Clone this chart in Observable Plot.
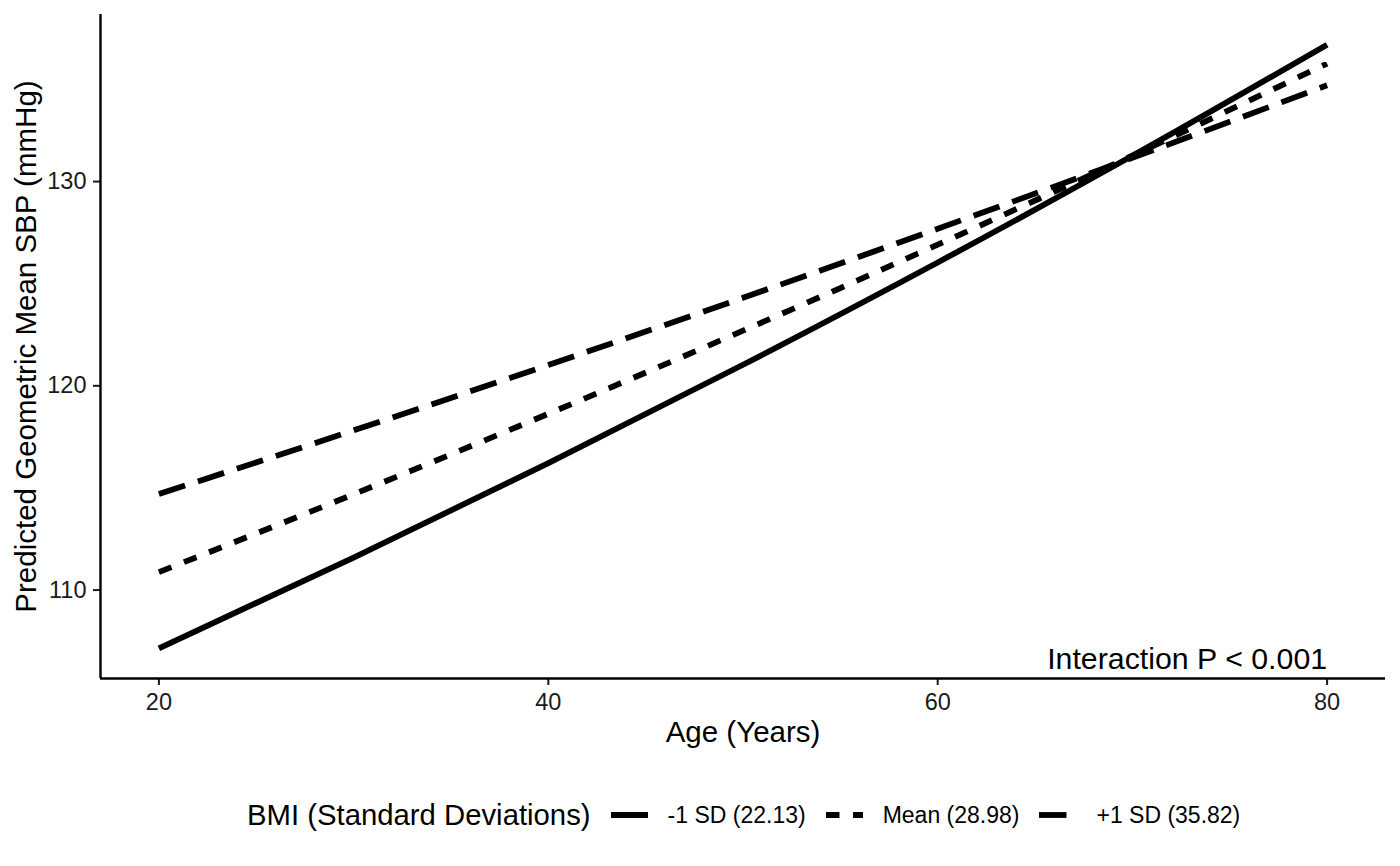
<!DOCTYPE html>
<html>
<head>
<meta charset="utf-8">
<script src="https://cdn.jsdelivr.net/npm/d3@7"></script>
<script src="https://cdn.jsdelivr.net/npm/@observablehq/plot@0.6"></script>
<style>
  html, body { margin: 0; padding: 0; background: #fff; }
  body { position: relative; width: 1400px; height: 866px; font-family: "Liberation Sans", Arial, sans-serif; color: #000; }
  #legend { position: absolute; top: 798px; left: 247px; height: 34px; display: flex; align-items: center; white-space: nowrap; }
  #legend .title { font-size: 29.3px; margin-right: 20px; }
  #legend .item { display: flex; align-items: center; margin-right: 20px; }
  #legend .item svg { margin-right: 20px; }
  #legend .item span { font-size: 23px; }
</style>
</head>
<body>
<div id="chart"></div>
<div id="legend"></div>
<script>
// ---- data ----
const ages = [20, 30, 40, 50, 60, 70, 80];
const sbpLow  = [107.15, 111.59, 116.21, 121.03, 126.04, 131.26, 136.70]; // -1 SD
const sbpMean = [110.88, 114.69, 118.63, 122.70, 126.91, 131.27, 135.78]; // Mean
const sbpHigh = [114.70, 117.82, 121.02, 124.31, 127.69, 131.16, 134.72]; // +1 SD
const groups = ["-1 SD (22.13)", "Mean (28.98)", "+1 SD (35.82)"];
const dashes = [null, "13.5,13.5", "27.5,13.5"];
const xTicks = [20, 40, 60, 80];
const yTicks = [110, 120, 130];
const xDomain = [17, 83];
const yDomain = [105.67, 138.18];
const xTitle = "Age (Years)";
const yTitle = "Predicted Geometric Mean SBP (mmHg)";
const legendTitle = "BMI (Standard Deviations)";
const annotation = [{age: 80, label: "Interaction P < 0.001"}];

const series = [sbpLow, sbpMean, sbpHigh];
const rows = groups.map((g, gi) => ages.map((a, i) => ({group: g, age: a, sbp: series[gi][i]})));

const lineWidth = 5.8;

const chart = Plot.plot({
  width: 1400,
  height: 770,
  marginLeft: 100,
  marginRight: 15,
  marginTop: 14,
  marginBottom: 92,
  x: {domain: xDomain},
  y: {domain: yDomain},
  style: {fontFamily: '"Liberation Sans", Arial, sans-serif', color: "#000", background: "#fff"},
  marks: [
    Plot.axisX(xTicks, {tickSize: 7, tickPadding: 8, fontSize: 23.5, strokeWidth: 2, label: null, color: "#1a1a1a"}),
    Plot.axisY(yTicks, {tickSize: 7, tickPadding: 7, fontSize: 23.5, strokeWidth: 2, label: null, color: "#1a1a1a"}),
    Plot.ruleY([yDomain[0]], {stroke: "#000", strokeWidth: 2.4}),
    Plot.ruleX([xDomain[0]], {stroke: "#000", strokeWidth: 2.4}),
    ...rows.map((r, i) => Plot.line(r, {
      x: "age", y: "sbp",
      curve: "monotone-x",
      stroke: "#000",
      strokeWidth: lineWidth,
      strokeDasharray: dashes[i] || undefined,
      strokeLinecap: "butt",
      strokeLinejoin: "round"
    })),
    Plot.text([xTitle], {text: d => d, frameAnchor: "bottom", lineAnchor: "middle", textAnchor: "middle", dy: 54.5, fontSize: 29.5, fill: "#000"}),
    Plot.text([yTitle], {text: d => d, frameAnchor: "left", lineAnchor: "middle", textAnchor: "middle", rotate: -90, dx: -74, fontSize: 29.5, fill: "#000"}),
    Plot.text(annotation, {x: "age", text: "label", frameAnchor: "bottom", lineAnchor: "middle", textAnchor: "end", dy: -19.5, fontSize: 30.3, fill: "#000"})
  ]
});
document.getElementById("chart").appendChild(chart);

// ---- legend (HTML below the SVG) ----
const legend = d3.select("#legend");
legend.append("span").attr("class", "title").text(legendTitle);
groups.forEach((g, i) => {
  const item = legend.append("div").attr("class", "item");
  const svg = item.append("svg").attr("width", 37).attr("height", 34);
  const ln = svg.append("line")
    .attr("x1", 0).attr("x2", 37).attr("y1", 17).attr("y2", 17)
    .attr("stroke", "#000").attr("stroke-width", lineWidth).attr("stroke-linecap", "butt");
  if (dashes[i]) ln.attr("stroke-dasharray", dashes[i]);
  item.append("span").text(g);
});
</script>
</body>
</html>
